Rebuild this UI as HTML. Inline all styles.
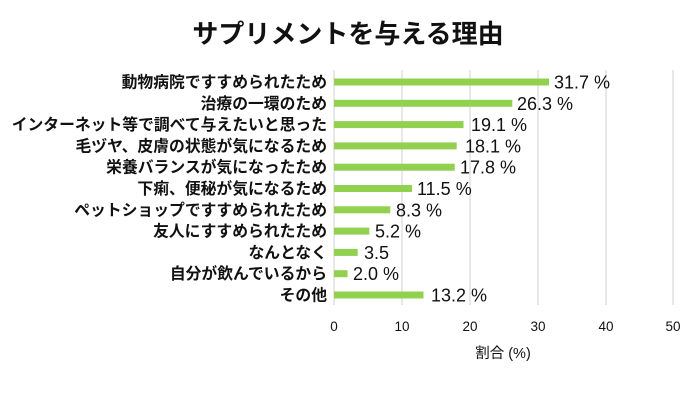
<!DOCTYPE html>
<html><head><meta charset="utf-8"><style>
body{margin:0;background:#fff;}
svg{display:block;font-family:"Liberation Sans","Noto Sans CJK JP",sans-serif;}
</style></head><body>
<svg width="696" height="410" viewBox="0 0 696 410">
<rect width="696" height="410" fill="#fff"/>
<text x="348" y="43" text-anchor="middle" font-size="26" font-weight="bold" fill="#111">サプリメントを与える理由</text>
<g stroke="#d9d9d9" stroke-width="1.2">
<line x1="334" y1="70" x2="334" y2="305"/>
<line x1="402" y1="70" x2="402" y2="305"/>
<line x1="470" y1="70" x2="470" y2="305"/>
<line x1="538" y1="70" x2="538" y2="305"/>
<line x1="606" y1="70" x2="606" y2="305"/>
<line x1="673" y1="70" x2="673" y2="305"/>
</g>
<g fill="#92d050">
<rect x="334" y="78.5" width="215" height="7"/>
<rect x="334" y="99.8" width="178.3" height="7"/>
<rect x="334" y="121.1" width="129.5" height="7"/>
<rect x="334" y="142.4" width="122.7" height="7"/>
<rect x="334" y="163.7" width="120.7" height="7"/>
<rect x="334" y="185" width="78" height="7"/>
<rect x="334" y="206.3" width="56.3" height="7"/>
<rect x="334" y="227.6" width="35.3" height="7"/>
<rect x="334" y="248.9" width="23.7" height="7"/>
<rect x="334" y="270.2" width="13.6" height="7"/>
<rect x="334" y="291.5" width="89.5" height="7"/>
</g>
<g font-size="15.8" font-weight="bold" fill="#111" text-anchor="end">
<text x="327" y="87.5">動物病院ですすめられたため</text>
<text x="327" y="108.8">治療の一環のため</text>
<text x="327" y="130.1">インターネット等で調べて与えたいと思った</text>
<text x="327" y="151.4">毛ヅヤ、皮膚の状態が気になるため</text>
<text x="327" y="172.7">栄養バランスが気になったため</text>
<text x="327" y="194">下痢、便秘が気になるため</text>
<text x="327" y="215.3">ペットショップですすめられたため</text>
<text x="327" y="236.6">友人にすすめられたため</text>
<text x="327" y="257.9">なんとなく</text>
<text x="327" y="279.2">自分が飲んでいるから</text>
<text x="327" y="300.5">その他</text>
</g>
<g font-size="18" fill="#111">
<text x="554" y="88.5">31.7 %</text>
<text x="517" y="109.8">26.3 %</text>
<text x="471" y="131.1">19.1 %</text>
<text x="465" y="152.4">18.1 %</text>
<text x="460" y="173.7">17.8 %</text>
<text x="417" y="195">11.5 %</text>
<text x="396" y="216.3">8.3 %</text>
<text x="375" y="237.6">5.2 %</text>
<text x="364" y="258.9">3.5</text>
<text x="353" y="280.2">2.0 %</text>
<text x="431" y="301.5">13.2 %</text>
</g>
<g font-size="13.5" fill="#111" text-anchor="middle">
<text x="334" y="331">0</text>
<text x="402" y="331">10</text>
<text x="470" y="331">20</text>
<text x="538" y="331">30</text>
<text x="606" y="331">40</text>
<text x="673" y="331">50</text>
<text x="503" y="358" font-size="14.5">割合 (%)</text>
</g>
</svg>
</body></html>
